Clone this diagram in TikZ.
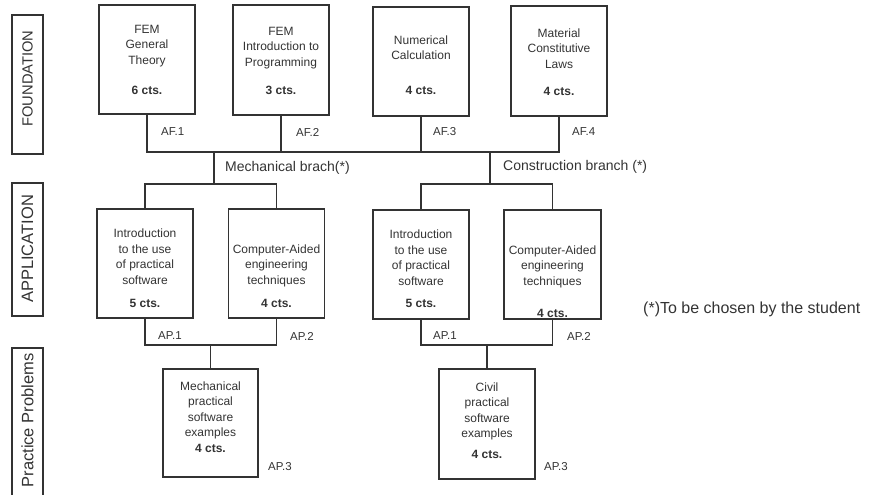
\documentclass[tikz,border=0pt]{standalone}
\usepackage{fontspec}
\setmainfont{Liberation Sans}
\definecolor{ink}{HTML}{333333}
\begin{document}
\begin{tikzpicture}[x=1pt,y=-1pt,
  line/.style={draw=ink, line width=1.6pt},
  box/.style={draw=ink, line width=1.6pt, minimum width=96pt, inner sep=0pt},
  sidebox/.style={draw=ink, line width=1.6pt, minimum width=31pt, inner sep=0pt},
  txt/.style={text=ink, align=center, font=\fontsize{12}{15.5}\selectfont, inner sep=0pt},
  cts/.style={text=ink, font=\fontsize{12}{14}\selectfont\bfseries, inner sep=0pt},
  code/.style={text=ink, font=\fontsize{11.5}{13}\selectfont, inner sep=0pt, anchor=west},
  branch/.style={text=ink, font=\fontsize{14}{16}\selectfont, inner sep=0pt, anchor=west},
  side/.style={text=ink, rotate=90, inner sep=0pt}]
\useasboundingbox (0,0) rectangle (875,495);

% side labels
\node[sidebox, minimum height=139pt] (sfb) at (27.5,84.5) {};
\node[side, font=\fontsize{14.7}{16}\selectfont] (sf) at (27.5,78.5) {FOUNDATION};
\node[sidebox, minimum height=133pt] (sab) at (27.5,249.5) {};
\node[side, font=\fontsize{16.5}{18}\selectfont] (sa) at (27.5,249) {APPLICATION};
\draw[line] (12,496) -- (12,348) -- (43,348) -- (43,496);
\node[side, font=\fontsize{16.5}{18}\selectfont] (sp) at (27.5,420.5) {Practice Problems};

% foundation boxes
\node[box, minimum height=109pt] (af1) at (147,59.5) {};
\node[box, minimum height=110pt] (af2) at (281,60) {};
\node[box, minimum height=109pt] (af3) at (421,61.5) {};
\node[box, minimum height=110pt] (af4) at (559,61) {};
\node[txt] (af1t) at (147,46) {FEM\\General\\Theory};
\node[cts] (af1c) at (147,90) {6 cts.};
\node[txt] (af2t) at (281,48) {FEM\\Introduction to\\Programming};
\node[cts] (af2c) at (281,90) {3 cts.};
\node[txt] (af3t) at (421,47.5) {Numerical\\Calculation};
\node[cts] (af3c) at (421,90) {4 cts.};
\node[txt] (af4t) at (559,48.5) {Material\\Constitutive\\Laws};
\node[cts] (af4c) at (559,91) {4 cts.};

% application boxes
\node[box, minimum height=109pt] (ap1L) at (145,263.5) {};
\node[box, minimum height=109pt] (ap2L) at (276.5,263.5) {};
\node[box, minimum height=109pt] (ap1R) at (421,264.5) {};
\node[box, minimum height=109pt, minimum width=97pt] (ap2R) at (552.5,264.5) {};
\node[txt] (ap1Lt) at (145,256.5) {Introduction\\to the use\\of practical\\software};
\node[cts] (ap1Lc) at (145,303) {5 cts.};
\node[txt] (ap2Lt) at (276.5,265.5) {Computer-Aided\\engineering\\techniques};
\node[cts] (ap2Lc) at (276.5,303) {4 cts.};
\node[txt] (ap1Rt) at (421,257.5) {Introduction\\to the use\\of practical\\software};
\node[cts] (ap1Rc) at (421,303.5) {5 cts.};
\node[txt] (ap2Rt) at (552.5,266.5) {Computer-Aided\\engineering\\techniques};
\node[cts] (ap2Rc) at (552.5,313) {4 cts.};

% practice boxes
\node[box, minimum width=95pt, minimum height=108pt] (mech) at (210.5,423) {};
\node[box, minimum height=110pt] (civ) at (487,424) {};
\node[txt] (mecht) at (210.5,410.5) {Mechanical\\practical\\software\\examples};
\node[cts] (mechc) at (210.5,448) {4 cts.};
\node[txt] (civt) at (487,411.5) {Civil\\practical\\software\\examples};
\node[cts] (civc) at (487,454) {4 cts.};

% connectors
\coordinate (fbus) at (0,152);
\coordinate (abus) at (0,184);
\coordinate (pbus) at (0,345);
\coordinate (mj) at (214,152);
\coordinate (cj) at (490,152);
\draw[line] (af1.south) -- (af1.south |- fbus) -- (af4.south |- fbus) -- (af4.south);
\draw[line] (af2.south) -- (af2.south |- fbus);
\draw[line] (af3.south) -- (af3.south |- fbus);
\draw[line] (mj) -- (mj |- abus);
\draw[line] (cj) -- (cj |- abus);
\draw[line] (ap1L.north) -- (ap1L.north |- abus) -- (ap2L.north |- abus) -- (ap2L.north);
\draw[line] (ap1R.north) -- (ap1R.north |- abus) -- (ap2R.north |- abus) -- (ap2R.north);
\draw[line] (ap1L.south) -- (ap1L.south |- pbus) -- (ap2L.south |- pbus) -- (ap2L.south);
\draw[line] (ap1R.south) -- (ap1R.south |- pbus) -- (ap2R.south |- pbus) -- (ap2R.south);
\draw[line] (mech.north) -- (mech.north |- pbus);
\draw[line] (civ.north) -- (civ.north |- pbus);

% labels
\node[code] (laf1) at (161,132) {AF.1};
\node[code] (laf2) at (296,132) {AF.2};
\node[code] (laf3) at (433,132) {AF.3};
\node[code] (laf4) at (572,132) {AF.4};
\node[code] (lap1L) at (158,336) {AP.1};
\node[code] (lap2L) at (290,336) {AP.2};
\node[code] (lap1R) at (433,336) {AP.1};
\node[code] (lap2R) at (567,336) {AP.2};
\node[code] (lap3L) at (268,467) {AP.3};
\node[code] (lap3R) at (544,467) {AP.3};
\node[branch] (lmech) at (225,168) {Mechanical brach(*)};
\node[branch] (lcons) at (503,167) {Construction branch (*)};
\node[branch, font=\fontsize{16}{18}\selectfont] (note) at (643,309) {(*)To be chosen by the student};
\end{tikzpicture}
\end{document}
